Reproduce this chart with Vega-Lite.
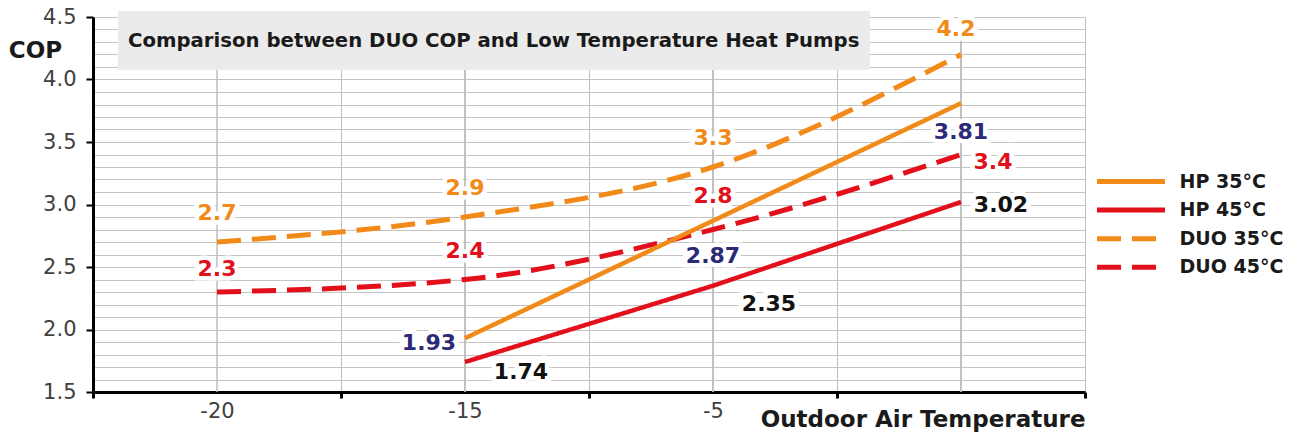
{
  "$schema": "https://vega.github.io/schema/vega-lite/v6.json",
  "width": 992,
  "height": 375,
  "autosize": "none",
  "padding": {"left": 93, "top": 17, "right": 218, "bottom": 45},
  "background": "white",
  "config": {"view": {"stroke": null}, "font": "DejaVu Sans"},
  "datasets": {
    "cop": [
      {"T": "-20", "series": "DUO 35°C", "COP": 2.7},
      {"T": "-15", "series": "DUO 35°C", "COP": 2.9},
      {"T": "-5", "series": "DUO 35°C", "COP": 3.3},
      {"T": "7", "series": "DUO 35°C", "COP": 4.2},
      {"T": "-20", "series": "DUO 45°C", "COP": 2.3},
      {"T": "-15", "series": "DUO 45°C", "COP": 2.4},
      {"T": "-5", "series": "DUO 45°C", "COP": 2.8},
      {"T": "7", "series": "DUO 45°C", "COP": 3.4},
      {"T": "-15", "series": "HP 35°C", "COP": 1.93},
      {"T": "-5", "series": "HP 35°C", "COP": 2.87},
      {"T": "7", "series": "HP 35°C", "COP": 3.81},
      {"T": "-15", "series": "HP 45°C", "COP": 1.74},
      {"T": "-5", "series": "HP 45°C", "COP": 2.35},
      {"T": "7", "series": "HP 45°C", "COP": 3.02}
    ],
    "note": [{"note": "Comparison between DUO COP and Low Temperature Heat Pumps"}]
  },
  "layer": [
    {
      "data": {"name": "cop"},
      "mark": {"type": "rule", "color": "#bdbdbd", "strokeWidth": 1},
      "encoding": {
        "x": {"field": "T", "type": "ordinal", "sort": ["-20", "-15", "-5", "7"], "bandPosition": 0.5,
          "scale": {"type": "band", "paddingInner": 0, "paddingOuter": 0}}
      }
    },
    {
      "data": {"name": "cop"},
      "encoding": {
        "x": {"field": "T", "type": "ordinal", "sort": ["-20", "-15", "-5", "7"], "bandPosition": 0.5,
          "scale": {"type": "band", "paddingInner": 0, "paddingOuter": 0},
          "axis": {
            "tickBand": "extent", "labelAngle": 0, "labelAlign": "center", "grid": true, "gridColor": "#bdbdbd", "gridWidth": 1,
            "domainColor": "black", "domainWidth": 3, "tickColor": "black", "tickWidth": 3, "tickSize": 6,
            "labelFont": "DejaVu Sans", "labelFontSize": 21, "labelColor": "#404040", "labelPadding": 13,
            "labelExpr": "datum.value == '7' ? '' : datum.value",
            "title": "Outdoor Air Temperature", "titleX": 992, "titleY": 34, "titleAlign": "right",
            "titleBaseline": "alphabetic", "titleFont": "DejaVu Sans", "titleFontSize": 23,
            "titleFontWeight": "bold", "titleColor": "#1a1a1a"
          }},
        "y": {"field": "COP", "type": "quantitative",
          "scale": {"domain": [1.5, 4.5], "nice": false, "zero": false},
          "axis": {
            "values": [1.5, 1.6, 1.7, 1.8, 1.9, 2.0, 2.1, 2.2, 2.3, 2.4, 2.5, 2.6, 2.7, 2.8, 2.9, 3.0, 3.1, 3.2, 3.3, 3.4, 3.5, 3.6, 3.7, 3.8, 3.9, 4.0, 4.1, 4.2, 4.3, 4.4, 4.5],
            "labelExpr": "abs(datum.value*2 - round(datum.value*2)) < 0.01 ? format(datum.value, '.1f') : ''",
            "labelOverlap": false,
            "grid": true, "gridColor": "#c4c4c4", "gridWidth": 1,
            "domainColor": "black", "domainWidth": 3,
            "tickColor": "black", "tickWidth": 2, "tickSize": 7,
            "tickOpacity": {"condition": {"test": "abs(datum.value*2 - round(datum.value*2)) < 0.01", "value": 1}, "value": 0},
            "labelFont": "DejaVu Sans", "labelFontSize": 21, "labelColor": "#404040", "labelPadding": 10,
            "title": "COP", "titleAngle": 0, "titleX": -58, "titleY": 33, "titleAlign": "center",
            "titleBaseline": "middle", "titleFont": "DejaVu Sans", "titleFontWeight": "bold",
            "titleFontSize": 23, "titleColor": "#1a1a1a"
          }}
      },
      "layer": [
        {
          "transform": [{"filter": "indexof(datum.series, 'DUO') == 0"}],
          "mark": {"type": "line", "strokeWidth": 5, "interpolate": "monotone"},
          "encoding": {
            "color": {"field": "series", "type": "nominal",
              "scale": {"domain": ["HP 35°C", "HP 45°C", "DUO 35°C", "DUO 45°C"], "range": ["#f28a1a", "#e3101b", "#f28a1a", "#e3101b"]},
              "legend": {"title": null, "orient": "none", "legendX": 1001.5, "legendY": 152, "padding": 0,
                "symbolType": "M-1,0H5.8", "symbolSize": 400, "symbolStrokeWidth": 5, "labelOffset": 60,
                "rowPadding": 5.6, "labelFont": "DejaVu Sans", "labelFontWeight": "bold", "labelFontSize": 19,
                "labelColor": "#1a1a1a", "labelLimit": 300}},
            "strokeDash": {"field": "series", "type": "nominal",
              "scale": {"domain": ["HP 35°C", "HP 45°C", "DUO 35°C", "DUO 45°C"], "range": [[1, 0], [1, 0], [24, 11], [24, 11]]}}
          }
        },
        {
          "transform": [{"filter": "indexof(datum.series, 'HP') == 0"}],
          "mark": {"type": "line", "strokeWidth": 4.5},
          "encoding": {
            "color": {"field": "series", "type": "nominal",
              "scale": {"domain": ["HP 35°C", "HP 45°C", "DUO 35°C", "DUO 45°C"], "range": ["#f28a1a", "#e3101b", "#f28a1a", "#e3101b"]}},
            "strokeDash": {"field": "series", "type": "nominal",
              "scale": {"domain": ["HP 35°C", "HP 45°C", "DUO 35°C", "DUO 45°C"], "range": [[1, 0], [1, 0], [24, 11], [24, 11]]}}
          }
        },
        {
          "transform": [{"filter": "datum.series == 'DUO 35°C'"}],
          "layer": [
            {"mark": {"type": "text", "font": "DejaVu Sans", "fontWeight": "bold", "fontSize": 22, "stroke": "white", "strokeWidth": 9, "strokeJoin": "miter", "fill": "white",
              "dx": {"expr": "datum.T == '7' ? -5 : 0"}, "dy": {"expr": "datum.T == '7' ? -26 : -29"}},
             "encoding": {"text": {"field": "COP", "type": "nominal"}}},
            {"mark": {"type": "text", "font": "DejaVu Sans", "fontWeight": "bold", "fontSize": 22, "fill": "#f28a1a",
              "dx": {"expr": "datum.T == '7' ? -5 : 0"}, "dy": {"expr": "datum.T == '7' ? -26 : -29"}},
             "encoding": {"text": {"field": "COP", "type": "nominal"}}}
          ]
        },
        {
          "transform": [{"filter": "datum.series == 'DUO 45°C'"}],
          "layer": [
            {"mark": {"type": "text", "font": "DejaVu Sans", "fontWeight": "bold", "fontSize": 22, "stroke": "white", "strokeWidth": 9, "strokeJoin": "miter", "fill": "white",
              "dx": {"expr": "datum.T == '7' ? 32 : 0"}, "dy": {"expr": "datum.T == '-20' ? -23 : datum.T == '-15' ? -29 : datum.T == '-5' ? -34 : 7"}},
             "encoding": {"text": {"field": "COP", "type": "nominal"}}},
            {"mark": {"type": "text", "font": "DejaVu Sans", "fontWeight": "bold", "fontSize": 22, "fill": "#e3101b",
              "dx": {"expr": "datum.T == '7' ? 32 : 0"}, "dy": {"expr": "datum.T == '-20' ? -23 : datum.T == '-15' ? -29 : datum.T == '-5' ? -34 : 7"}},
             "encoding": {"text": {"field": "COP", "type": "nominal"}}}
          ]
        },
        {
          "transform": [{"filter": "datum.series == 'HP 35°C'"}],
          "layer": [
            {"mark": {"type": "text", "font": "DejaVu Sans", "fontWeight": "bold", "fontSize": 22, "stroke": "white", "strokeWidth": 9, "strokeJoin": "miter", "fill": "white",
              "dx": {"expr": "datum.T == '-15' ? -36 : 0"}, "dy": {"expr": "datum.T == '-15' ? 5 : datum.T == '-5' ? 35 : 29"}},
             "encoding": {"text": {"field": "COP", "type": "nominal"}}},
            {"mark": {"type": "text", "font": "DejaVu Sans", "fontWeight": "bold", "fontSize": 22, "fill": "#2b2a77",
              "dx": {"expr": "datum.T == '-15' ? -36 : 0"}, "dy": {"expr": "datum.T == '-15' ? 5 : datum.T == '-5' ? 35 : 29"}},
             "encoding": {"text": {"field": "COP", "type": "nominal"}}}
          ]
        },
        {
          "transform": [{"filter": "datum.series == 'HP 45°C'"}],
          "layer": [
            {"mark": {"type": "text", "font": "DejaVu Sans", "fontWeight": "bold", "fontSize": 22, "stroke": "white", "strokeWidth": 9, "strokeJoin": "miter", "fill": "white",
              "dx": {"expr": "datum.T == '7' ? 40 : 56"}, "dy": {"expr": "datum.T == '-15' ? 10 : datum.T == '-5' ? 18 : 3"}},
             "encoding": {"text": {"field": "COP", "type": "nominal"}}},
            {"mark": {"type": "text", "font": "DejaVu Sans", "fontWeight": "bold", "fontSize": 22, "fill": "#111111",
              "dx": {"expr": "datum.T == '7' ? 40 : 56"}, "dy": {"expr": "datum.T == '-15' ? 10 : datum.T == '-5' ? 18 : 3"}},
             "encoding": {"text": {"field": "COP", "type": "nominal"}}}
          ]
        }
      ]
    },
    {
      "data": {"name": "note"},
      "mark": {"type": "point", "opacity": 0},
      "encoding": {
        "shape": {"field": "note", "type": "nominal", "scale": {"range": ["square"]},
          "legend": {"title": null, "orient": "none", "legendX": 25, "legendY": -6, "padding": 10,
            "fillColor": "#ebebeb", "symbolType": "square", "symbolSize": 1521, "symbolOpacity": 0,
            "symbolStrokeWidth": 0, "labelOffset": -39, "labelFont": "DejaVu Sans", "labelFontWeight": "bold",
            "labelFontSize": 19.7, "labelColor": "#1a1a1a", "labelLimit": 1000}}
      }
    }
  ]
}
